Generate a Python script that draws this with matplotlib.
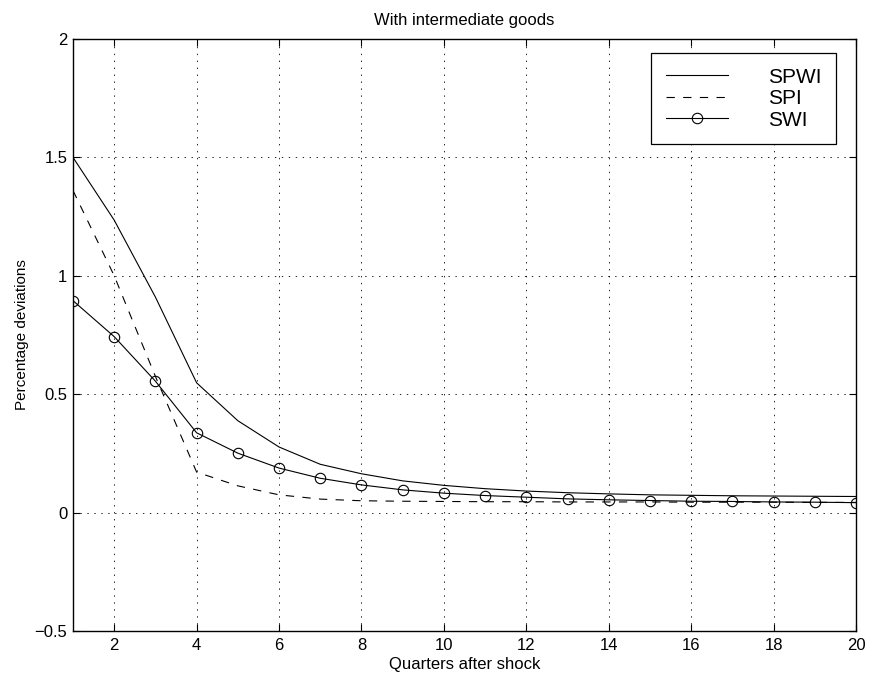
import matplotlib
matplotlib.use("Agg")
import matplotlib.pyplot as plt

plt.rcParams['font.family'] = ['Liberation Sans', 'DejaVu Sans']
plt.rcParams['lines.scale_dashes'] = False

# impulse responses, quarters 1..20
quarters = list(range(1, 21))
spwi = [1.50, 1.235, 0.91, 0.548, 0.388, 0.277, 0.204, 0.164, 0.134, 0.115,
        0.101, 0.091, 0.084, 0.079, 0.075, 0.073, 0.071, 0.070, 0.069, 0.068]
spi = [1.36, 1.0, 0.575, 0.171, 0.113, 0.075, 0.057, 0.050, 0.048, 0.047,
       0.046, 0.046, 0.045, 0.045, 0.045, 0.044, 0.044, 0.044, 0.043, 0.043]
swi = [0.895, 0.743, 0.555, 0.337, 0.251, 0.188, 0.145, 0.117, 0.096, 0.082,
       0.072, 0.065, 0.058, 0.054, 0.051, 0.048, 0.047, 0.045, 0.044, 0.042]

xticks = list(range(2, 21, 2))
yticks = [-0.5, 0, 0.5, 1, 1.5, 2]
yticklabels = ['\u22120.5', '0', '0.5', '1', '1.5', '2']

fig = plt.figure(figsize=(8.71, 6.77), dpi=100)
ax = fig.add_axes([73 / 871, 46 / 677, 783 / 871, 592 / 677])

ax.plot(quarters, spwi, color='black', lw=0.8, label='SPWI')
ax.plot(quarters, spi, color='black', lw=0.8, dashes=(6, 6), label='SPI')
ax.plot(quarters, swi, color='black', lw=0.8, marker='o', markersize=7.5,
        markerfacecolor='none', markeredgewidth=0.8, label='SWI')

ax.set_xlim(1, 20)
ax.set_ylim(-0.5, 2)
ax.set_xticks(xticks)
ax.set_yticks(yticks)
ax.set_yticklabels(yticklabels)
ax.tick_params(direction='in', top=True, right=True, length=5, width=0.8,
               labelsize=12)
ax.tick_params(axis='x', pad=5)
ax.tick_params(axis='y', pad=4)
ax.grid(True, color='black', linestyle=(0, (1, 4)), linewidth=0.6)
for s in ax.spines.values():
    s.set_linewidth(1.0)

ax.set_title('With intermediate goods', fontsize=12, pad=10)
ax.set_xlabel('Quarters after shock', fontsize=12, labelpad=3)
ax.set_ylabel('Percentage deviations', fontsize=11, labelpad=4)

leg = ax.legend(loc='upper right', bbox_to_anchor=(0.9745, 0.976),
                borderaxespad=0, fancybox=False, framealpha=1,
                edgecolor='black', fontsize=15, handlelength=3.0,
                handletextpad=1.9, labelspacing=0.12, borderpad=0.7)
leg.get_frame().set_linewidth(0.9)

fig.savefig('out.png', dpi=100)
